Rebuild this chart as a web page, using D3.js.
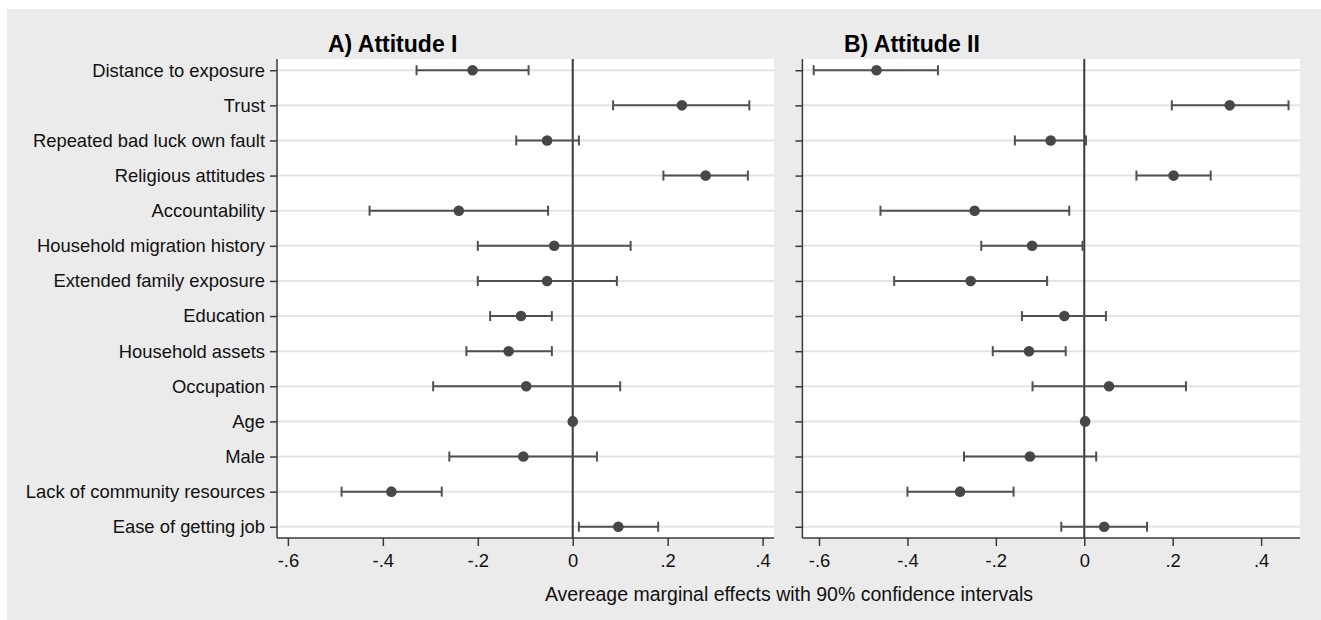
<!DOCTYPE html>
<html>
<head>
<meta charset="utf-8">
<script src="https://cdn.jsdelivr.net/npm/d3@7"></script>
<style>
  body { margin: 0; background: #fff; }
  svg { display: block; font-family: "Liberation Sans", Arial, sans-serif; }
</style>
</head>
<body>
<div id="chart"></div>
<script>
// variables, top to bottom
const categories = [
    "Distance to exposure", "Trust", "Repeated bad luck own fault", "Religious attitudes",
    "Accountability", "Household migration history", "Extended family exposure", "Education",
    "Household assets", "Occupation", "Age", "Male", "Lack of community resources", "Ease of getting job"
];

// A) Attitude I : estimate, lower and upper 90% CI
const attI_est = [-0.211, 0.230, -0.054, 0.280, -0.240, -0.039, -0.054, -0.109, -0.135, -0.098, 0.000, -0.104, -0.382, 0.096];
const attI_lo  = [-0.329, 0.085, -0.119, 0.191, -0.428, -0.200, -0.200, -0.174, -0.224, -0.294, -0.003, -0.260, -0.487, 0.013];
const attI_hi  = [-0.093, 0.372, 0.013, 0.369, -0.052, 0.122, 0.093, -0.044, -0.044, 0.100, 0.003, 0.051, -0.276, 0.180];

// B) Attitude II
const attII_est = [-0.470, 0.329, -0.076, 0.202, -0.248, -0.118, -0.257, -0.045, -0.125, 0.056, 0.002, -0.123, -0.281, 0.045];
const attII_lo  = [-0.612, 0.198, -0.157, 0.118, -0.461, -0.233, -0.430, -0.141, -0.207, -0.117, -0.001, -0.272, -0.400, -0.052];
const attII_hi  = [-0.331, 0.462, 0.004, 0.286, -0.034, -0.004, -0.084, 0.049, -0.042, 0.230, 0.005, 0.027, -0.160, 0.142];

const tickVals = [-0.6, -0.4, -0.2, 0, 0.2, 0.4];
const xTitle = "Avereage marginal effects with 90% confidence intervals";

const W = 1321, H = 620;
const svg = d3.select("#chart").append("svg").attr("width", W).attr("height", H);

// fond gris
svg.append("rect").attr("x", 7).attr("y", 9).attr("width", W - 7).attr("height", H - 9).attr("fill", "#ebebeb");

const plotTop = 59, plotBottom = 538;
const y = d3.scalePoint().domain(categories).range([plotTop, plotBottom]).padding(0.32);

const fmt = d => d === 0 ? "0" : (d < 0 ? "-" : "") + "." + Math.round(Math.abs(d) * 10);

function draw_panel(opts) {
    const { left, width, domain, title, titleX, est, lo, hi, showLabels } = opts;
    const x = d3.scaleLinear().domain(domain).range([left, left + width]);
    const g = svg.append("g");

    g.append("rect").attr("x", left).attr("y", plotTop).attr("width", width).attr("height", plotBottom - plotTop).attr("fill", "#fff");

    // grille horizontale
    g.selectAll("line.grid").data(categories).enter().append("line")
        .attr("x1", left).attr("x2", left + width)
        .attr("y1", d => y(d)).attr("y2", d => y(d))
        .attr("stroke", "#e4e4e4").attr("stroke-width", 2);

    // ligne zéro
    g.append("line").attr("x1", x(0)).attr("x2", x(0)).attr("y1", plotTop).attr("y2", plotBottom)
        .attr("stroke", "#3a3a3a").attr("stroke-width", 2);

    // axe Y
    const yAxis = g.append("g").attr("transform", `translate(${left},0)`)
        .call(d3.axisLeft(y).tickSize(7).tickPadding(5).tickFormat(showLabels ? (d => d) : () => ""));
    yAxis.select(".domain").attr("d", `M0,${plotTop}V${plotBottom}`).attr("stroke", "#3a3a3a").attr("stroke-width", 1.5);
    yAxis.selectAll(".tick line").attr("stroke", "#3a3a3a").attr("stroke-width", 1.5);
    yAxis.selectAll(".tick text").attr("font-size", "18.4px").attr("fill", "#111").attr("font-family", "Liberation Sans, Arial, sans-serif");

    // axe X
    const xAxis = g.append("g").attr("transform", `translate(0,${plotBottom})`)
        .call(d3.axisBottom(x).tickValues(tickVals).tickFormat(fmt).tickSize(8).tickPadding(8));
    xAxis.select(".domain").attr("d", `M${left},0H${left + width}`).attr("stroke", "#3a3a3a").attr("stroke-width", 1.5);
    xAxis.selectAll(".tick line").attr("stroke", "#3a3a3a").attr("stroke-width", 1.5);
    xAxis.selectAll(".tick text").attr("font-size", "18.4px").attr("fill", "#111").attr("font-family", "Liberation Sans, Arial, sans-serif");

    const rows = categories.map((c, i) => ({ c, est: est[i], lo: lo[i], hi: hi[i] }));

    // intervalles de confiance
    g.selectAll("line.ci").data(rows).enter().append("line")
        .attr("x1", d => x(d.lo)).attr("x2", d => x(d.hi))
        .attr("y1", d => y(d.c)).attr("y2", d => y(d.c))
        .attr("stroke", "#505050").attr("stroke-width", 2);
    ["lo", "hi"].forEach(k => {
        g.selectAll("line.cap-" + k).data(rows).enter().append("line")
            .attr("x1", d => x(d[k])).attr("x2", d => x(d[k]))
            .attr("y1", d => y(d.c) - 5).attr("y2", d => y(d.c) + 5)
            .attr("stroke", "#505050").attr("stroke-width", 2);
    });

    g.selectAll("circle").data(rows).enter().append("circle")
        .attr("cx", d => x(d.est)).attr("cy", d => y(d.c)).attr("r", 5.3)
        .attr("fill", "#474747");

    svg.append("text").attr("x", titleX).attr("y", 52)
        .attr("font-size", "23px").attr("font-weight", "bold").attr("fill", "#000")
        .text(title);
}

draw_panel({ left: 277, width: 497, domain: [-0.623, 0.424], title: "A) Attitude I", titleX: 328,
    est: attI_est, lo: attI_lo, hi: attI_hi, showLabels: true });
draw_panel({ left: 802.4, width: 497.6, domain: [-0.6376, 0.488], title: "B) Attitude II", titleX: 844,
    est: attII_est, lo: attII_lo, hi: attII_hi, showLabels: false });

svg.append("text").attr("x", 789).attr("y", 601).attr("text-anchor", "middle")
    .attr("font-size", "19.5px").attr("fill", "#111").text(xTitle);
</script>
</body>
</html>
